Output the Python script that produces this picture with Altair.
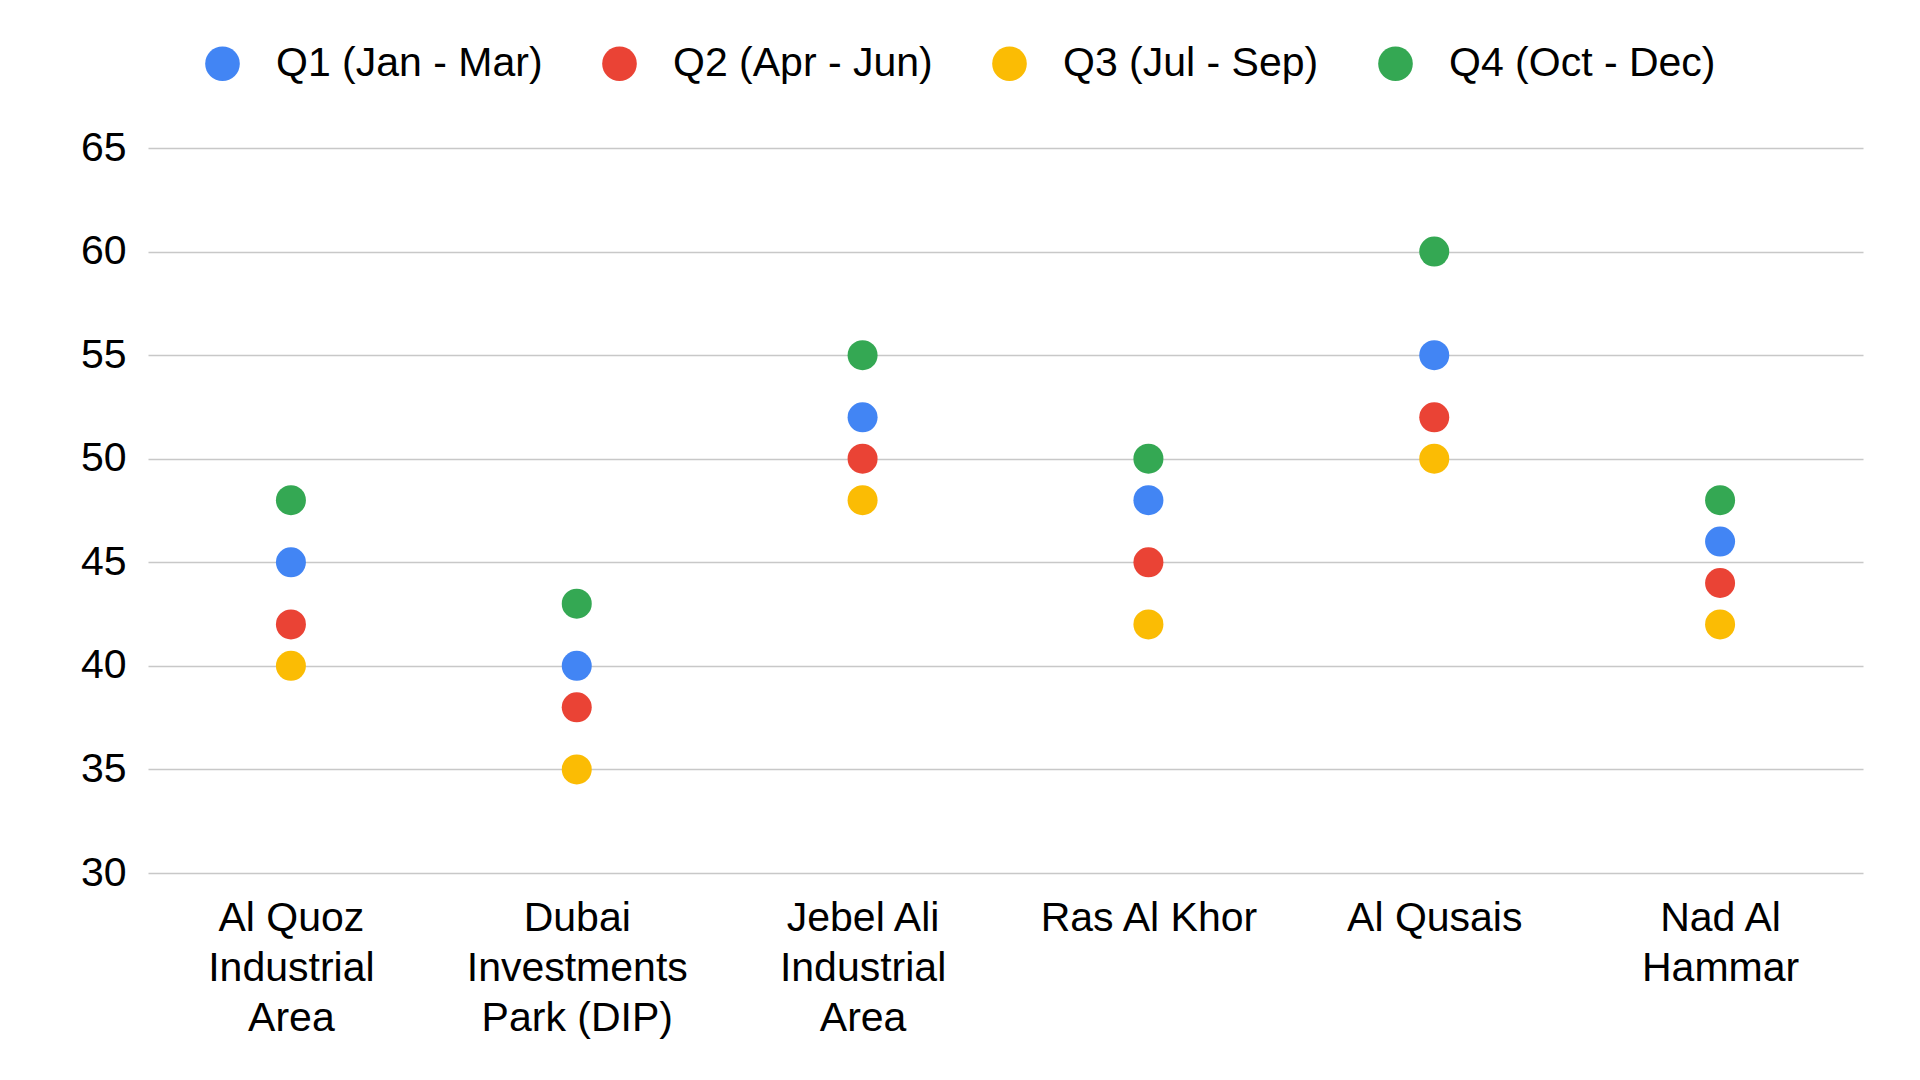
import altair as alt
import pandas as pd

areas = ["Al Quoz Industrial Area", "Dubai Investments Park (DIP)", "Jebel Ali Industrial Area",
         "Ras Al Khor", "Al Qusais", "Nad Al Hammar"]
area_lines = [["Al Quoz", "Industrial", "Area"], ["Dubai", "Investments", "Park (DIP)"],
              ["Jebel Ali", "Industrial", "Area"], ["Ras Al Khor"], ["Al Qusais"], ["Nad Al", "Hammar"]]
quarters = ["Q1 (Jan - Mar)", "Q2 (Apr - Jun)", "Q3 (Jul - Sep)", "Q4 (Oct - Dec)"]
q1 = [45, 40, 52, 48, 55, 46]
q2 = [42, 38, 50, 45, 52, 44]
q3 = [40, 35, 48, 42, 50, 42]
q4 = [48, 43, 55, 50, 60, 48]
colors = ["#4285F4", "#EA4335", "#FBBC04", "#34A853"]

rows = []
for qi, series in enumerate([q1, q2, q3, q4]):
    for a, v in zip(areas, series):
        rows.append({"Area": a, "Quarter": quarters[qi], "Value": v, "order": qi})
df = pd.DataFrame(rows)

lookup = "{" + ",".join("'%s':[%s]" % (a, ",".join("'%s'" % l for l in ls)) for a, ls in zip(areas, area_lines)) + "}"

FONT = "Liberation Sans"

chart = alt.Chart(df).mark_circle(size=900, opacity=1).encode(
    x=alt.X("Area:N", sort=areas, title=None,
            scale=alt.Scale(paddingInner=0, paddingOuter=0),
            axis=alt.Axis(labelExpr=lookup + "[datum.value]", labelAngle=0, labelFontSize=41,
                          labelFont=FONT, labelColor="#000", labelLineHeight=50, labelPadding=25,
                          ticks=False, domain=False, grid=False, labelLimit=400, labelBaseline="top")),
    y=alt.Y("Value:Q", title=None, scale=alt.Scale(domain=[30, 65], nice=False, zero=False),
            axis=alt.Axis(values=[30, 35, 40, 45, 50, 55, 60, 65], labelFontSize=41, labelFont=FONT,
                          labelColor="#000", labelPadding=22, ticks=False, domain=False,
                          grid=True, gridColor="#c8c8c8", gridWidth=1.5)),
    color=alt.Color("Quarter:N", sort=quarters,
                    scale=alt.Scale(domain=quarters, range=colors),
                    legend=alt.Legend(orient="none", legendX=54, legendY=-105, direction="horizontal",
                                      title=None, symbolType="circle", symbolSize=1200,
                                      symbolStrokeWidth=0, symbolOpacity=1, labelFontSize=41,
                                      labelFont=FONT, labelColor="#000", labelOffset=33,
                                      columnPadding=56, padding=0, labelLimit=500)),
    order="order:Q",
).properties(
    width=1715, height=725,
    padding={"left": 140, "top": 140, "right": 40, "bottom": 180},
    autosize=alt.AutoSizeParams(type="none"),
    background="white",
).configure_view(stroke=None, strokeWidth=0)

chart.save("out.html", embed_options={"renderer": "svg", "actions": False})
